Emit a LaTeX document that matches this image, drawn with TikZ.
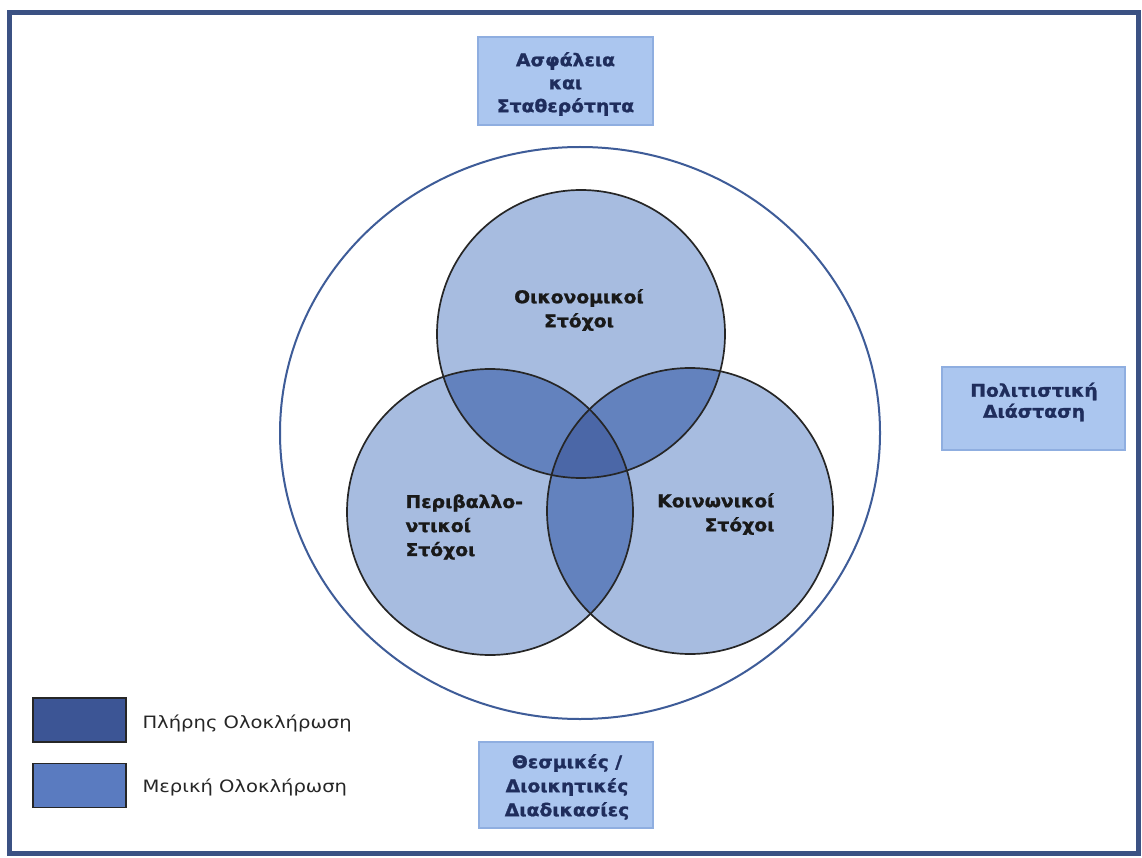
\documentclass[tikz,border=0pt]{standalone}
\usepackage{fontspec}
\setmainfont{DejaVu Sans}
\newfontfamily\wideBold[FakeStretch=1.07,FakeBold=1.3]{DejaVu Sans Bold}
\newfontfamily\wideReg[FakeStretch=1.15]{DejaVu Sans}
\definecolor{framec}{HTML}{3B5183}
\definecolor{outerc}{HTML}{3E5C98}
\definecolor{lite}{HTML}{A7BCE0}
\definecolor{pairc}{HTML}{6382BE}
\definecolor{tripc}{HTML}{4B67A7}
\definecolor{legdark}{HTML}{3C5595}
\definecolor{legmed}{HTML}{5A7BC0}
\definecolor{boxfill}{HTML}{ABC6EF}
\definecolor{boxline}{HTML}{8FAEE0}
\definecolor{boxtext}{HTML}{1F2D5C}
\newcommand{\circA}{(581,334) circle[radius=144pt]}
\newcommand{\circB}{(490,512) circle[radius=143pt]}
\newcommand{\circC}{(690,511) circle[radius=143pt]}
\tikzset{
  infobox/.style={draw=boxline, line width=1.2pt, fill=boxfill, inner sep=0pt},
  boxlbl/.style={text=boxtext, font=\wideBold\fontsize{17.5}{23}\selectfont, align=center},
  circlbl/.style={text=black!90, font=\wideBold\fontsize{17.5}{24}\selectfont},
  legbox/.style={draw=black!85, line width=1.5pt, inner sep=0pt, minimum width=93pt, minimum height=44pt},
  leglbl/.style={text=black!85, font=\wideReg\fontsize{17}{20}\selectfont, anchor=west},
}
\begin{document}
\begin{tikzpicture}[x=1pt,y=-1pt]
\useasboundingbox (0,0) rectangle (1142,858);
\fill[white] (0,0) rectangle (1142,858);
\draw[framec, line width=5pt] (9.5,12.5) rectangle (1138.5,853);

% outer circle
\draw[outerc, line width=2pt] (580,433) ellipse [x radius=300pt, y radius=286pt];

% Venn circles
\fill[lite] \circA; \fill[lite] \circB; \fill[lite] \circC;
\begin{scope}\clip \circA; \fill[pairc] \circB; \fill[pairc] \circC;\end{scope}
\begin{scope}\clip \circB; \fill[pairc] \circC;\end{scope}
\begin{scope}\clip \circA; \clip \circB; \fill[tripc] \circC;\end{scope}
\draw[black!85, line width=1.7pt] \circA;
\draw[black!85, line width=1.7pt] \circB;
\draw[black!85, line width=1.7pt] \circC;

\node[circlbl, align=center] (eco) at (579,310) {Οικονομικοί\\Στόχοι};
\node[circlbl, align=left, anchor=west] (env) at (402,527) {Περιβαλλο-\\ντικοί\\Στόχοι};
\node[circlbl, align=right, anchor=east] (soc) at (778,514) {Κοινωνικοί\\Στόχοι};

% boxes
\node[infobox, minimum width=175pt, minimum height=88pt] (topbox) at (565.5,81) {};
\node[boxlbl] (toptxt) at (565.5,84) {Ασφάλεια\\και\\Σταθερότητα};
\node[infobox, minimum width=183pt, minimum height=83pt] (rightbox) at (1033.5,408.5) {};
\node[boxlbl, font=\wideBold\fontsize{17.5}{21}\selectfont] (righttxt) at (1034,402) {Πολιτιστική\\Διάσταση};
\node[infobox, minimum width=174pt, minimum height=86pt] (botbox) at (566,785) {};
\node[boxlbl, font=\wideBold\fontsize{17.5}{24}\selectfont] (bottxt) at (567,787) {Θεσμικές /\\Διοικητικές\\Διαδικασίες};

% legend
\node[legbox, fill=legdark] (leg1) at (79.5,720) {};
\node[leglbl] (leg1t) at (139,723) {Πλήρης Ολοκλήρωση};
\node[legbox, fill=legmed] (leg2) at (79.5,785.5) {};
\node[leglbl] (leg2t) at (139,787) {Μερική Ολοκλήρωση};
\end{tikzpicture}
\end{document}
